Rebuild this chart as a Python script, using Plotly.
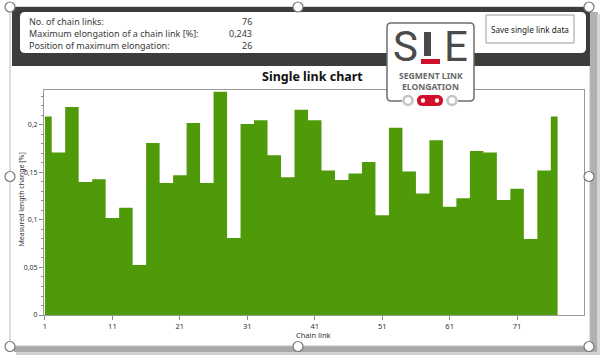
import numpy as np
import plotly.graph_objects as go

# ---------------- data ----------------
segment_values = [0.209, 0.171, 0.219, 0.140, 0.143, 0.102, 0.113, 0.0525, 0.181, 0.139,
                  0.147, 0.202, 0.139, 0.235, 0.081, 0.201, 0.205, 0.168, 0.145, 0.216,
                  0.205, 0.152, 0.142, 0.149, 0.161, 0.105, 0.197, 0.151, 0.128, 0.184,
                  0.114, 0.123, 0.1725, 0.171, 0.121, 0.133, 0.080, 0.152, 0.209]
links_per_segment = [1] + [2] * 37 + [1]
x_tick_values = [1, 11, 21, 31, 41, 51, 61, 71]
y_tick_values = [0, 0.05, 0.1, 0.15, 0.2]
info_labels = ["No. of chain links:", "Maximum elongation of a chain link [%]:",
               "Position of maximum elongation:"]
info_values = ["76", "0,243", "26"]

# step edges of each segment along the link axis
edges = 1 + np.concatenate([[0], np.cumsum(links_per_segment)])
step_x = np.concatenate([[edges[0]], edges, [edges[-1]]])
step_y = np.concatenate([[0], segment_values, [segment_values[-1]], [0]])

# ---------------- geometry helpers (pixel -> paper) ----------------
W, H = 600, 355
L, R, T, B = 44, 16, 90, 40
PW, PH = W - L - R, H - T - B


def px(x):
    return (x - L) / PW


def py(y):
    return (H - B - y) / PH


GREEN = "#4f9a08"
DARK = "#3c3c3c"
FONT = "Noto Sans"

fig = go.Figure()
fig.add_trace(go.Scatter(x=step_x, y=step_y, mode="lines", line_shape="hv",
                         line=dict(width=0, color=GREEN), fill="toself",
                         fillcolor=GREEN, hoverinfo="skip", showlegend=False))

shapes = []


def rect(x0, y0, x1, y1, fill, line=None, lw=0, layer="below"):
    shapes.append(dict(type="rect", xref="paper", yref="paper",
                       x0=px(x0), x1=px(x1), y0=py(y1), y1=py(y0),
                       fillcolor=fill, line=dict(color=line or fill, width=lw),
                       layer=layer))


def circle(cx, cy, r, fill, line, lw=1, layer="above"):
    shapes.append(dict(type="circle", xref="paper", yref="paper",
                       x0=px(cx - r), x1=px(cx + r), y0=py(cy + r), y1=py(cy - r),
                       fillcolor=fill, line=dict(color=line, width=lw), layer=layer))


# shadows
rect(590, 12, 598, 352, "#b0b0b0")
rect(597, 14, 600, 355, "#d4d4d4")
rect(14, 345, 597, 352, "#a8a8a8")
rect(16, 352, 600, 355, "#d0d0d0")
# outer container
rect(10, 7, 590, 346, "#ffffff", "#bdbdbd", 1)
# dark header band
rect(12, 7, 590, 66, DARK)
# white info panel
shapes.append(dict(type="path", xref="paper", yref="paper", layer="below",
                   path=(f"M {px(25)},{py(12)} L {px(581)},{py(12)} "
                         f"Q {px(586)},{py(12)} {px(586)},{py(17)} L {px(586)},{py(48)} "
                         f"Q {px(586)},{py(53)} {px(581)},{py(53)} L {px(25)},{py(53)} "
                         f"Q {px(20)},{py(53)} {px(20)},{py(48)} L {px(20)},{py(17)} "
                         f"Q {px(20)},{py(12)} {px(25)},{py(12)} Z"),
                   fillcolor="#ffffff", line=dict(width=0)))
# save button
rect(486, 15, 574, 43, "#ffffff", "#9a9a9a", 1, layer="above")

# logo box
shapes.append(dict(type="path", xref="paper", yref="paper", layer="above",
                   path=(f"M {px(391)},{py(23)} L {px(470)},{py(23)} "
                         f"Q {px(474)},{py(23)} {px(474)},{py(27)} L {px(474)},{py(97)} "
                         f"Q {px(474)},{py(101)} {px(470)},{py(101)} L {px(391)},{py(101)} "
                         f"Q {px(387)},{py(101)} {px(387)},{py(97)} L {px(387)},{py(27)} "
                         f"Q {px(387)},{py(23)} {px(391)},{py(23)} Z"),
                   fillcolor="#ffffff", line=dict(color="#6e6e6e", width=1.5)))
# "L" of logo: dark bar + red underscore
rect(424, 32, 431, 56, "#4a4a4a", layer="above")
rect(421, 59, 440, 64, "#d0102a", layer="above")
# chain icon
rect(402, 97, 458, 104, "#ffffff", layer="above")
circle(408, 100.5, 4.5, "#ffffff", "#c4c4c4", 2.5)
circle(452, 100.5, 4.5, "#ffffff", "#c4c4c4", 2.5)
shapes.append(dict(type="path", xref="paper", yref="paper", layer="above",
                   path=(f"M {px(423)},{py(95)} L {px(437)},{py(95)} "
                         f"Q {px(443)},{py(95)} {px(443)},{py(100.5)} "
                         f"Q {px(443)},{py(106)} {px(437)},{py(106)} L {px(423)},{py(106)} "
                         f"Q {px(417)},{py(106)} {px(417)},{py(100.5)} "
                         f"Q {px(417)},{py(95)} {px(423)},{py(95)} Z"),
                   fillcolor="#d0102a", line=dict(width=0)))
circle(423, 100.5, 2.2, "#ffffff", "#ffffff", 0)
circle(437, 100.5, 2.2, "#ffffff", "#ffffff", 0)

# selection handles
for hx, hy in [(10, 7), (298, 7), (589, 7), (10, 176.5), (589, 176.5),
               (10, 346.5), (298, 346.5), (589, 346.5)]:
    circle(hx, hy, 5, "#ffffff", "#7a7a7a", 1.2)

annotations = []


def text(x, y, s, size, color="#333333", xanchor="left", bold=False, angle=0, family=FONT):
    annotations.append(dict(xref="paper", yref="paper", x=px(x), y=py(y),
                            text=f"<b>{s}</b>" if bold else s, showarrow=False,
                            xanchor=xanchor, yanchor="middle", textangle=angle,
                            font=dict(size=size, color=color, family=family)))


for i, (lab, val) in enumerate(zip(info_labels, info_values)):
    yy = 21.5 + i * 11.8
    text(27, yy, lab, 9, "#3a3a3a")
    text(254, yy, val, 9, "#3a3a3a", xanchor="right")

text(530, 29, "Save single link data", 8.2, "#222222", xanchor="center")
text(312, 76, "Single link chart", 12.5, "#111111", xanchor="center", bold=True)
text(20.5, 200, "Measured length change [%]", 7, "#333333", xanchor="center", angle=-90)
text(313, 335, "Chain link", 7.5, "#333333", xanchor="center")
# logo text
text(405, 46, "S", 42, "#4a4a4a", xanchor="center", family="Roboto")
text(456, 46, "E", 42, "#4a4a4a", xanchor="center", family="Roboto")
text(430.5, 76, "<b>SEGMENT LINK</b>", 8.6, "#6a6a6a", xanchor="center")
text(430.5, 86.5, "<b>ELONGATION</b>", 8.6, "#6a6a6a", xanchor="center")

fig.update_layout(
    width=W, height=H, margin=dict(l=L, r=R, t=T, b=B, pad=0),
    paper_bgcolor="#ffffff", plot_bgcolor="rgba(0,0,0,0)",
    separators=",.", shapes=shapes, annotations=annotations,
    font=dict(family=FONT, size=7.5, color="#333333"),
    xaxis=dict(range=[0.86, 80.92], tickvals=x_tick_values, ticks="outside",
               ticklen=4, tickcolor="#888888", showgrid=False, zeroline=False,
               showline=True, linecolor="#9a9a9a", linewidth=1, mirror=True,
               tickfont=dict(size=7.5, color="#333333")),
    yaxis=dict(range=[0, 0.2368], tickvals=y_tick_values, ticks="outside",
               ticklen=4, tickcolor="#888888", showgrid=False, zeroline=False,
               showline=True, linecolor="#9a9a9a", linewidth=1, mirror=True,
               tickfont=dict(size=7, color="#333333"),
               minor=dict(dtick=0.01, tick0=0, ticks="outside", ticklen=2,
                          tickcolor="#888888", showgrid=False)),
)

fig.write_html("out.html")
